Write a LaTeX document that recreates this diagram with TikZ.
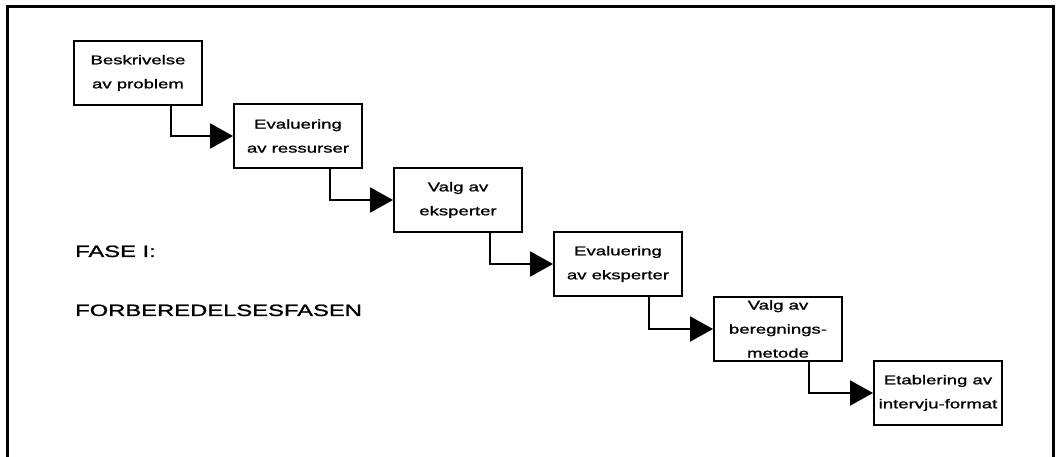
\documentclass[tikz,border=0pt]{standalone}
\usepackage{fontspec}
\setmainfont{Liberation Sans}[FakeStretch=1.45,FakeBold=1.2]
\usetikzlibrary{arrows.meta}
\begin{document}
\begin{tikzpicture}[x=1pt,y=-1pt,
  stepbox/.style={draw,line width=2pt,minimum width=128pt,minimum height=64pt,
    inner sep=0pt,align=center,anchor=north west,
    font=\fontsize{12.8}{24}\selectfont},
  link/.style={line width=2pt,-{Triangle[length=23pt,width=25pt]}},
  phase/.style={anchor=base west,inner sep=0pt,font=\fontsize{16.4}{20}\selectfont}]
\useasboundingbox (0,0) rectangle (1061,457);
\clip (0,0) rectangle (1061,457);
% outer frame
\draw[line width=3pt] (7,470) |- (1053,7) -- (1053,470);

% process steps
\node[stepbox] (b1) at (73,40)  {Beskrivelse\\av problem};
\node[stepbox] (b2) at (233,103) {Evaluering\\av ressurser};
\node[stepbox] (b3) at (393,167) {Valg av\\eksperter};
\node[stepbox] (b4) at (553,231) {Evaluering\\av eksperter};
\node[stepbox] (b5) at (713,296) {Valg av\\beregnings-\\metode};
\node[stepbox] (b6) at (873,360) {Etablering av\\intervju-format};

% connectors
\draw[link] (b1.south west) ++(98,0) |- (b2.west);
\draw[link] (b2.south west) ++(97,0) |- (b3.west);
\draw[link] (b3.south west) ++(97,0) |- (b4.west);
\draw[link] (b4.south west) ++(96,0) |- (b5.west);
\draw[link] (b5.south west) ++(96,0) |- (b6.west);

% phase label
\node[phase] (fase) at (75,257) {FASE I:};
\node[phase] (navn) at (75,316) {FORBEREDELSESFASEN};
\end{tikzpicture}
\end{document}
